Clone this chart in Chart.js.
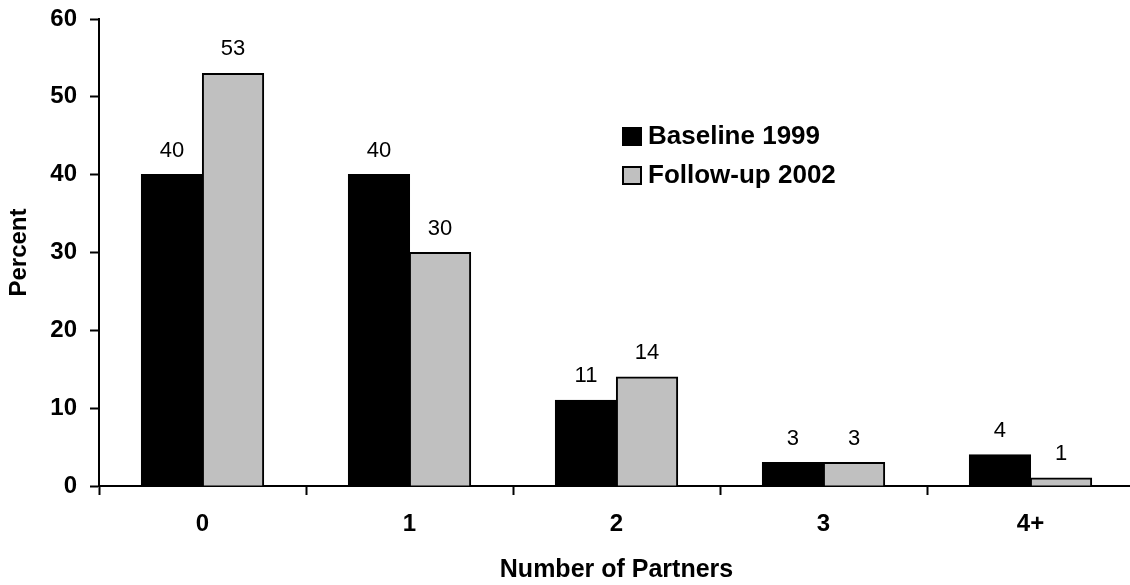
<!DOCTYPE html>
<html>
<head>
<meta charset="utf-8">
<script src="https://cdn.jsdelivr.net/npm/chart.js@4.4.1/dist/chart.umd.min.js"></script>
<style>
  html, body { margin: 0; padding: 0; background: #fff; overflow: hidden; }
  #wrap { width: 1136px; height: 585px; }
</style>
</head>
<body>
<div id="wrap"><canvas id="c" width="1136" height="585"></canvas></div>
<script>
// Number of sexual partners, share of respondents (%)
const categories = ['0', '1', '2', '3', '4+'];
const baseline1999 = [40, 40, 11, 3, 4];
const followup2002 = [53, 30, 14, 3, 1];
const seriesNames = ['Baseline 1999', 'Follow-up 2002'];
const yTicks = [0, 10, 20, 30, 40, 50, 60];

const FONT = '"Liberation Sans", Arial, sans-serif';

// Value labels above each bar
const valueLabels = {
  id: 'valueLabels',
  afterDatasetsDraw(chart) {
    const ctx = chart.ctx;
    ctx.save();
    ctx.font = '22px ' + FONT;
    ctx.fillStyle = '#000';
    ctx.textAlign = 'center';
    ctx.textBaseline = 'alphabetic';
    chart.data.datasets.forEach((ds, i) => {
      const meta = chart.getDatasetMeta(i);
      meta.data.forEach((bar, j) => {
        ctx.fillText(String(ds.data[j]), bar.x, bar.y - 18);
      });
    });
    ctx.restore();
  }
};

// Legend placed inside the plot area
const insideLegend = {
  id: 'insideLegend',
  afterDraw(chart) {
    const ctx = chart.ctx;
    ctx.save();
    ctx.font = 'bold 26px ' + FONT;
    ctx.textAlign = 'left';
    ctx.textBaseline = 'middle';
    chart.data.datasets.forEach((ds, i) => {
      const y = 128 + i * 39;
      ctx.fillStyle = ds.backgroundColor;
      ctx.fillRect(623, y, 18, 17);
      ctx.strokeStyle = '#000';
      ctx.lineWidth = 2;
      ctx.strokeRect(623, y, 18, 17);
      ctx.fillStyle = '#000';
      ctx.fillText(ds.label, 648, y + 9);
    });
    ctx.restore();
  }
};

new Chart(document.getElementById('c'), {
  type: 'bar',
  data: {
    labels: categories,
    datasets: [
      { label: seriesNames[0], data: baseline1999, backgroundColor: '#000000',
        borderColor: '#000000', borderWidth: 2, inflateAmount: 0.6 },
      { label: seriesNames[1], data: followup2002, backgroundColor: '#c0c0c0',
        borderColor: '#000000', borderWidth: 2, inflateAmount: 0.6 }
    ]
  },
  options: {
    responsive: false,
    animation: false,
    events: [],
    layout: { padding: { top: 19, right: 2, bottom: 0, left: 0 } },
    datasets: { bar: { categoryPercentage: 0.59, barPercentage: 1.0 } },
    plugins: {
      legend: { display: false },
      tooltip: { enabled: false }
    },
    scales: {
      x: {
        afterFit(scale) {
          scale.height = 99;
          scale.paddingLeft = 0;
          scale.paddingRight = 0;
        },
        grid: {
          offset: true,
          drawOnChartArea: false,
          drawTicks: true,
          tickLength: 9,
          tickWidth: 2,
          tickColor: '#000'
        },
        border: { display: true, color: '#000', width: 2 },
        ticks: {
          color: '#000',
          padding: 15,
          font: { family: FONT, size: 24, weight: 'bold' }
        },
        title: {
          display: true,
          text: 'Number of Partners',
          color: '#000',
          font: { family: FONT, size: 25, weight: 'bold' },
          padding: { top: 0, bottom: 0 }
        }
      },
      y: {
        min: 0,
        max: 60,
        afterFit(scale) {
          scale.width = 99;
          scale.paddingTop = 0;
          scale.paddingBottom = 0;
        },
        afterBuildTicks(scale) { scale.ticks = yTicks.map(v => ({ value: v })); },
        grid: {
          drawOnChartArea: false,
          drawTicks: true,
          tickLength: 9,
          tickWidth: 2,
          tickColor: '#000'
        },
        border: { display: true, color: '#000', width: 2 },
        ticks: {
          color: '#000',
          padding: 13,
          font: { family: FONT, size: 24, weight: 'bold' }
        },
        title: {
          display: true,
          text: 'Percent',
          color: '#000',
          font: { family: FONT, size: 24, weight: 'bold' },
          padding: { top: 5, bottom: 0 }
        }
      }
    }
  },
  plugins: [valueLabels, insideLegend]
});
</script>
</body>
</html>
